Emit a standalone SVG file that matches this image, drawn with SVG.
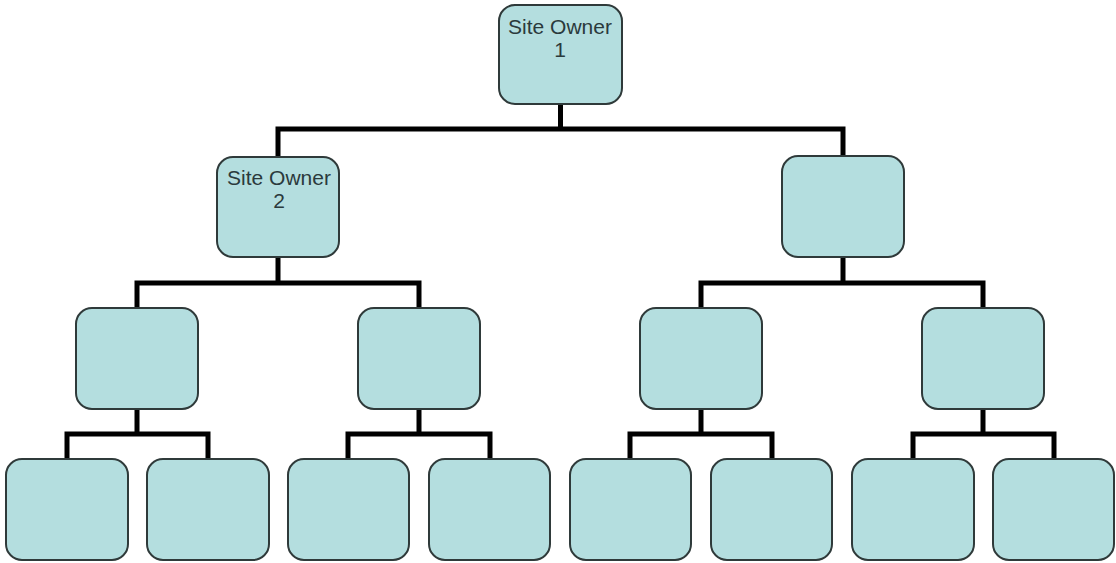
<svg xmlns="http://www.w3.org/2000/svg" width="1116" height="563" viewBox="0 0 1116 563">
<style>
.n{fill:#b4dedf;stroke:#2f3a3a;stroke-width:2}
.c{fill:none;stroke:#000;stroke-width:5;stroke-linecap:square;stroke-linejoin:miter}
.t{font-family:"Liberation Sans",Arial,sans-serif;font-size:21px;fill:#2b3a3c;text-anchor:middle}
</style>
<rect width="1116" height="563" fill="#fff"/>
<g id="connectors">
<path class="c" d="M560.5 104V129M278 129H843M278 129V157M843 129V156"/>
<path class="c" d="M278 257V283M137 283H419M137 283V308M419 283V308"/>
<path class="c" d="M843 257V283M701 283H983M701 283V308M983 283V308"/>
<path class="c" d="M137 409V434M67 434H208M67 434V459M208 434V459"/>
<path class="c" d="M419 409V434M348 434H490M348 434V459M490 434V459"/>
<path class="c" d="M701 409V434M630 434H772M630 434V459M772 434V459"/>
<path class="c" d="M983 409V434M913 434H1054M913 434V459M1054 434V459"/>
</g>
<g id="root"><rect class="n" x="499" y="5" width="123" height="99" rx="16"/><text class="t" x="560" y="34">Site Owner</text><text class="t" x="560" y="57">1</text></g>
<g id="owner2"><rect class="n" x="217" y="157" width="122" height="100" rx="16"/><text class="t" x="279" y="185">Site Owner</text><text class="t" x="279" y="208">2</text></g>
<g id="l1b"><rect class="n" x="782" y="156" width="122" height="101" rx="16"/></g>
<g id="l2a"><rect class="n" x="76" y="308" width="122" height="101" rx="16"/></g>
<g id="l2b"><rect class="n" x="358" y="308" width="122" height="101" rx="16"/></g>
<g id="l2c"><rect class="n" x="640" y="308" width="122" height="101" rx="16"/></g>
<g id="l2d"><rect class="n" x="922" y="308" width="122" height="101" rx="16"/></g>
<g id="l3a"><rect class="n" x="6" y="459" width="122" height="101" rx="16"/></g>
<g id="l3b"><rect class="n" x="147" y="459" width="122" height="101" rx="16"/></g>
<g id="l3c"><rect class="n" x="288" y="459" width="121" height="101" rx="16"/></g>
<g id="l3d"><rect class="n" x="429" y="459" width="121" height="101" rx="16"/></g>
<g id="l3e"><rect class="n" x="570" y="459" width="121" height="101" rx="16"/></g>
<g id="l3f"><rect class="n" x="711" y="459" width="121" height="101" rx="16"/></g>
<g id="l3g"><rect class="n" x="852" y="459" width="122" height="101" rx="16"/></g>
<g id="l3h"><rect class="n" x="993" y="459" width="121" height="101" rx="16"/></g>
</svg>
